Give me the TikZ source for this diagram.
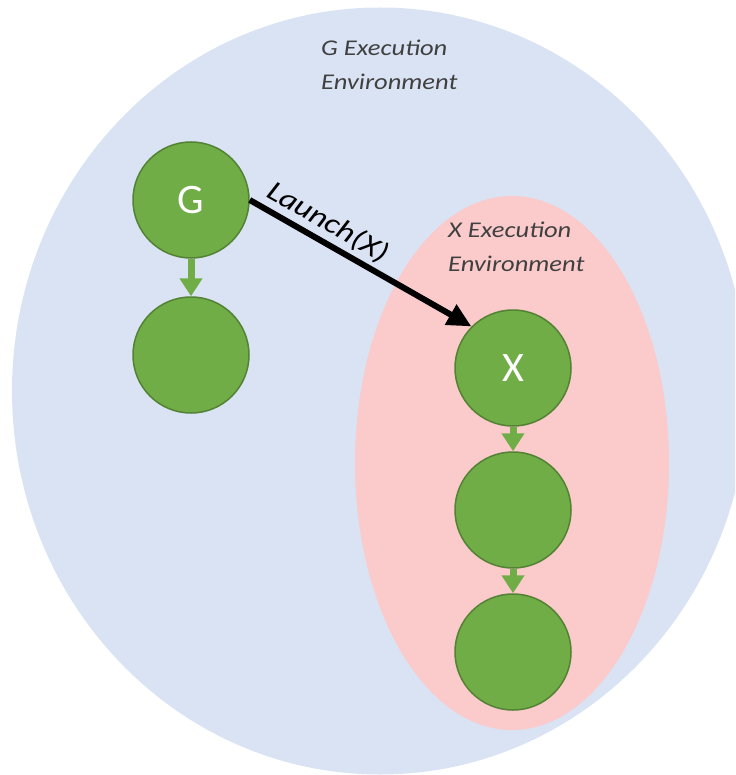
\documentclass[tikz,border=0pt]{standalone}
\usepackage{fontspec}
\setmainfont{Carlito}
\newfontfamily\widefont{Carlito}[FakeStretch=1.18]
\usetikzlibrary{shapes.geometric,arrows.meta}
\definecolor{envblue}{HTML}{DAE3F3}
\definecolor{envpink}{HTML}{FBCACB}
\definecolor{gfill}{HTML}{70AD47}
\definecolor{gline}{HTML}{548235}
\definecolor{envtext}{HTML}{404040}
\tikzset{
  task/.style={circle, fill=gfill, draw=gline, line width=1.5pt, minimum size=116pt, inner sep=0pt,
    text=white, font=\fontsize{42}{44}\selectfont},
  envlabel/.style={anchor=north west, align=left, inner sep=0pt, text=envtext,
    font=\widefont\fontsize{22.5}{34}\selectfont\itshape},
  launchlabel/.style={pos=0.31, above=4pt, sloped, inner sep=0pt, text=black,
    font=\widefont\fontsize{28.5}{30}\selectfont\itshape},
  garrow/.style={draw=gfill, line width=7pt, -{Triangle[width=22pt,length=18pt]}},
  launcharrow/.style={draw=black, line width=6pt, -{Triangle[width=22pt,length=24pt]}},
}
\begin{document}
\begin{tikzpicture}[x=1pt,y=-1pt]
\useasboundingbox (0,0) rectangle (735,775);
\clip (0,0) rectangle (735,775);
\node[ellipse, fill=envblue, minimum width=736pt, minimum height=767pt, inner sep=0pt] (genv) at (380,391) {};
\node[ellipse, fill=envpink, minimum width=314pt, minimum height=534pt, inner sep=0pt] (xenv) at (512,463) {};
\node[envlabel] (glabel) at (321,40) {G Execution\\Environment};
\node[envlabel] (xlabel) at (448,222) {X Execution\\Environment};
\node[task] (g) at (191,200) {G};
\node[task] (g2) at (191,355) {};
\node[task] (x) at (513,368) {X};
\node[task] (x2) at (513,510) {};
\node[task] (x3) at (513,652) {};
\draw[garrow] (g) -- (g2);
\draw[garrow] (x) -- (x2);
\draw[garrow] (x2) -- (x3);
\draw[launcharrow] (g.east) -- node[launchlabel] {Launch(X)} (x.north west);
\end{tikzpicture}
\end{document}
